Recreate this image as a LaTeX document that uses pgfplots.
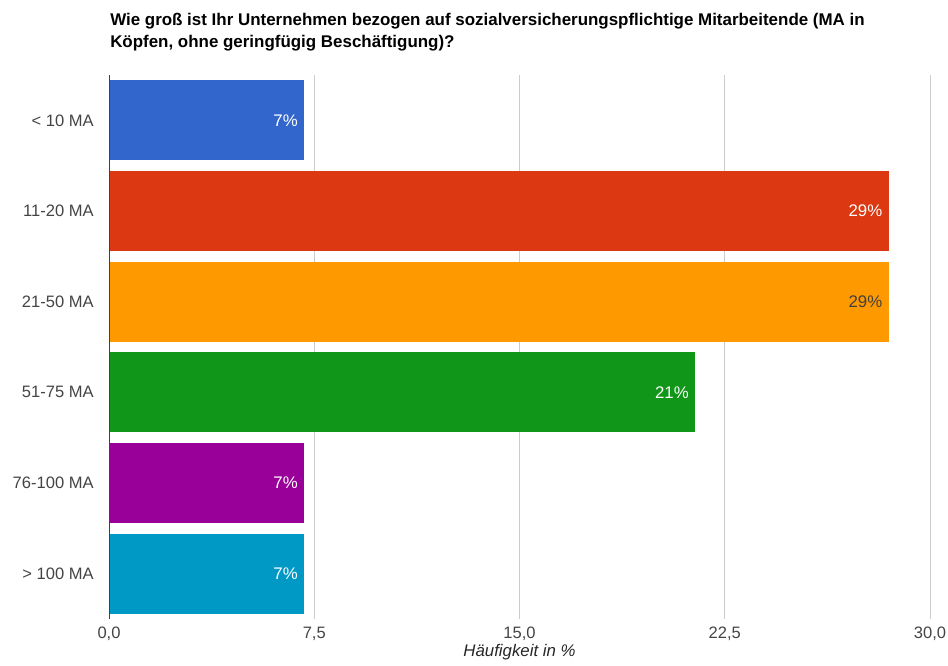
\documentclass[border=0pt]{standalone}
\usepackage{pgfplots}
\pgfplotsset{compat=1.18}
\usepackage{fontspec}
\setmainfont{Liberation Sans}
\definecolor{c1}{HTML}{3366CC}
\definecolor{c2}{HTML}{DC3912}
\definecolor{c3}{HTML}{FF9900}
\definecolor{c4}{HTML}{109618}
\definecolor{c5}{HTML}{990099}
\definecolor{c6}{HTML}{0099C6}
\definecolor{tick}{HTML}{444444}
\definecolor{gridc}{HTML}{CCCCCC}
\begin{document}
\begin{tikzpicture}
\path[use as bounding box] (0,0) rectangle (711pt,499.5pt);
\node[anchor=north west, align=left, inner sep=0pt, font=\fontsize{12.7}{16.5}\selectfont\bfseries]
  at (82.5pt,489.5pt) {Wie groß ist Ihr Unternehmen bezogen auf sozialversicherungspflichtige Mitarbeitende (MA in\\Köpfen, ohne geringfügig Beschäftigung)?};
\begin{axis}[
  at={(81.75pt,35.25pt)}, anchor=south west,
  scale only axis, width=615.75pt, height=408pt,
  xbar, bar shift=0pt, bar width=0.88,
  y dir=reverse,
  xmin=0, xmax=30, ymin=-0.5, ymax=5.5,
  xtick={0,7.5,15,22.5,30},
  ytick={0,1,2,3,4,5},
  yticklabels={< 10 MA, 11-20 MA, 21-50 MA, 51-75 MA, 76-100 MA, > 100 MA},
  xticklabel={\pgfmathprintnumber[fixed,fixed zerofill,precision=1,use comma]{\tick}},
  /pgf/number format/assume math mode=true,
  major tick length=0pt,
  xmajorgrids, grid style={gridc, line width=0.75pt},
  axis line style={draw=none},
  ticklabel style={font=\fontsize{12.4}{15}\selectfont, text=tick},
  xticklabel style={yshift=-2.5pt},
  yticklabel style={xshift=-8pt},
  xlabel={\itshape Häufigkeit in \%},
  xlabel style={font=\fontsize{12.6}{15}\selectfont, text=black!85, yshift=4.5pt},
  clip=false,
  nodes near coords={\pgfmathprintnumber[fixed,precision=0]{\pgfplotspointmeta}\%},
  nodes near coords style={anchor=east, xshift=-1.5pt, font=\fontsize{12.6}{15}\selectfont, text=white},
]
\addplot[fill=c1, draw=none] coordinates {(7.14,0)};
\addplot[fill=c2, draw=none] coordinates {(28.5,1)};
\addplot[fill=c3, draw=none, nodes near coords style={text=black!75}] coordinates {(28.5,2)};
\addplot[fill=c4, draw=none] coordinates {(21.43,3)};
\addplot[fill=c5, draw=none] coordinates {(7.14,4)};
\addplot[fill=c6, draw=none] coordinates {(7.14,5)};
\draw[black!75, line width=0.75pt] (axis cs:0,-0.5) -- (axis cs:0,5.5);
\end{axis}
\end{tikzpicture}
\end{document}
